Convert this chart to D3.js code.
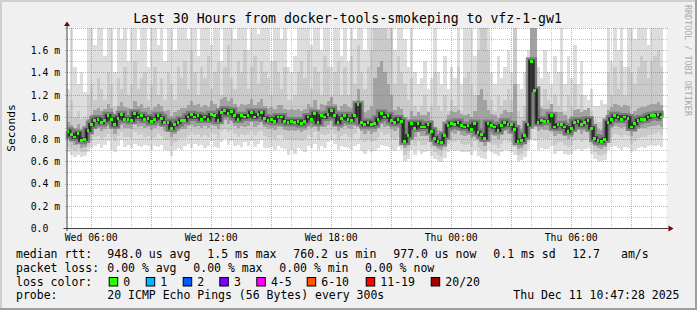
<!DOCTYPE html>
<html>
<head>
<meta charset="utf-8">
<script src="https://cdn.jsdelivr.net/npm/d3@7"></script>
<style>
  body { margin: 0; background: #f0f0f0; }
  text { font-family: "DejaVu Sans Mono", monospace; fill: #000; }
</style>
</head>
<body>
<script>
// one value per 10 minute step, milliseconds
var median = [
  0.87,0.84,0.82,0.85,0.79,0.80,0.88,0.93,0.97,0.98,
  0.95,0.97,1.01,0.98,0.93,0.99,1.02,0.98,0.98,0.97,
  1.03,1.00,1.01,0.98,0.99,0.96,0.98,1.01,0.99,0.95,
  0.95,0.90,0.93,0.95,0.97,0.97,1.00,1.02,1.00,1.01,
  0.98,1.00,0.98,1.02,1.01,0.97,1.04,1.06,1.03,1.05,
  1.01,0.98,1.01,1.00,1.01,1.04,1.00,1.02,1.04,0.99,
  0.97,0.98,0.96,1.00,1.00,0.96,0.95,0.96,0.95,0.96,
  0.94,0.96,1.00,0.98,1.03,0.95,1.01,1.00,1.02,1.06,
  1.01,0.95,0.99,1.01,0.98,0.97,1.01,1.11,0.95,0.93,
  0.95,0.93,0.94,0.98,1.03,1.00,1.01,0.97,0.95,0.98,
  0.96,0.78,0.83,0.94,0.90,0.94,0.91,0.91,0.93,0.87,
  0.81,0.78,0.77,0.83,0.92,0.94,0.93,0.95,0.92,0.91,
  0.92,0.89,0.94,0.86,0.84,0.81,0.94,0.92,0.91,0.88,
  0.92,0.95,0.93,0.93,0.89,0.78,0.79,0.83,0.93,1.50,
  1.24,0.95,0.97,0.96,0.96,1.01,0.91,0.93,0.93,0.91,
  0.87,0.90,0.95,0.96,0.93,0.95,0.97,0.90,0.81,0.79,
  0.78,0.80,0.95,0.98,1.01,1.00,0.98,1.00,0.99,0.91,
  0.94,0.97,0.98,0.98,1.00,1.01,1.01,1.02,1.00
];
// highest ping of the step
var pMax = [
  1.25,1.82,1.45,1.30,1.40,1.22,1.82,1.82,1.65,1.82,
  1.82,1.55,1.82,1.82,1.40,1.82,1.70,1.82,1.50,1.82,
  1.82,1.60,1.82,1.82,1.45,1.82,1.82,1.65,1.82,1.50,
  1.82,1.82,1.60,1.82,1.82,1.82,1.70,1.82,1.82,1.55,
  1.82,1.82,1.82,1.65,1.82,1.82,1.50,1.82,1.82,1.82,
  1.70,1.82,1.82,1.82,1.60,1.82,1.82,1.75,1.82,1.82,
  1.82,1.50,1.82,1.82,1.70,1.82,1.45,1.40,1.55,1.82,
  1.82,1.82,1.82,1.65,1.82,1.82,1.60,1.82,1.82,1.45,
  1.82,1.82,1.55,1.82,1.50,1.82,1.70,1.82,1.82,1.60,
  1.82,1.82,1.82,1.82,1.82,1.82,1.82,1.82,1.60,1.82,
  1.82,1.70,1.45,1.82,1.40,1.30,1.35,1.50,1.25,1.35,
  1.82,1.40,1.30,1.55,1.25,1.45,1.35,1.82,1.30,1.82,
  1.82,1.82,1.55,1.82,1.82,1.82,1.82,1.40,1.30,1.55,
  1.35,1.45,1.60,1.40,1.82,1.30,1.25,1.40,1.60,1.82,
  1.82,1.45,1.35,1.60,1.40,1.30,1.55,1.40,1.82,1.30,
  1.55,1.35,1.65,1.30,1.50,1.20,1.15,1.25,1.10,1.10,
  1.15,1.12,1.82,1.50,1.82,1.60,1.82,1.45,1.82,1.82,
  1.70,1.82,1.82,1.82,1.65,1.82,1.82,1.82,1.80
];
// 18th of 20 pings
var pHi = [
  1.05,1.15,1.00,1.05,0.98,1.00,1.20,1.30,1.15,1.35,
  1.25,1.15,1.40,1.30,1.10,1.35,1.25,1.45,1.20,1.30,
  1.50,1.25,1.35,1.40,1.15,1.30,1.45,1.20,1.35,1.15,
  1.40,1.30,1.15,1.45,1.35,1.50,1.25,1.60,1.40,1.20,
  1.45,1.35,1.55,1.25,1.40,1.50,1.20,1.45,1.65,1.35,
  1.25,1.50,1.40,1.60,1.25,1.45,1.55,1.30,1.50,1.40,
  1.35,1.20,1.50,1.40,1.25,1.45,1.15,1.15,1.20,1.40,
  1.50,1.35,1.60,1.25,1.45,1.40,1.20,1.55,1.45,1.15,
  1.40,1.50,1.20,1.45,1.20,1.55,1.30,1.65,1.40,1.25,
  1.45,1.60,1.82,1.82,1.82,1.82,1.70,1.82,1.30,1.55,
  1.40,1.30,1.15,1.35,1.10,1.05,1.10,1.20,1.05,1.10,
  1.40,1.10,1.05,1.20,1.05,1.15,1.10,1.45,1.05,1.35,
  1.40,1.30,1.20,1.60,1.82,1.82,1.60,1.15,1.05,1.20,
  1.10,1.15,1.25,1.15,1.82,1.05,1.00,1.10,1.25,1.82,
  1.82,1.20,1.10,1.25,1.15,1.05,1.20,1.10,1.40,1.05,
  1.20,1.10,1.30,1.05,1.20,1.05,1.05,1.05,0.98,0.95,
  0.95,0.98,1.40,1.20,1.45,1.25,1.50,1.20,1.45,1.40,
  1.30,1.45,1.55,1.50,1.35,1.50,1.55,1.60,1.45
];
// 15th of 20 pings
var pMid = [
  0.95,0.93,0.90,0.94,0.88,0.90,0.98,1.02,1.06,1.08,
  1.05,1.07,1.12,1.08,1.03,1.10,1.13,1.09,1.08,1.07,
  1.14,1.10,1.12,1.08,1.09,1.06,1.09,1.12,1.10,1.05,
  1.06,1.01,1.04,1.06,1.08,1.08,1.11,1.14,1.11,1.12,
  1.09,1.11,1.09,1.14,1.12,1.08,1.16,1.18,1.14,1.17,
  1.12,1.09,1.12,1.11,1.12,1.16,1.11,1.13,1.16,1.10,
  1.08,1.09,1.07,1.11,1.11,1.07,1.06,1.07,1.06,1.07,
  1.05,1.07,1.12,1.09,1.15,1.06,1.12,1.11,1.14,1.18,
  1.12,1.06,1.10,1.12,1.09,1.08,1.12,1.25,1.06,1.04,
  1.06,1.10,1.35,1.45,1.50,1.40,1.30,1.20,1.06,1.09,
  1.07,0.90,0.92,1.05,1.01,1.04,1.02,1.02,1.04,0.97,
  0.91,0.88,0.87,0.94,1.02,1.05,1.04,1.06,1.03,1.02,
  1.03,1.00,1.05,1.20,1.25,1.15,1.06,1.03,1.02,0.99,
  1.03,1.06,1.04,1.04,1.30,0.88,0.89,0.93,1.04,1.82,
  1.82,1.06,1.08,1.07,1.07,1.12,1.02,1.04,1.04,1.02,
  0.98,1.01,1.06,1.07,1.04,1.06,1.08,1.01,0.91,0.89,
  0.88,0.90,1.06,1.09,1.12,1.11,1.09,1.11,1.10,1.02,
  1.05,1.08,1.09,1.09,1.11,1.12,1.12,1.13,1.11
];
// 6th of 20 pings
var pLow = [
  0.80,0.77,0.75,0.78,0.72,0.73,0.80,0.85,0.89,0.90,
  0.87,0.89,0.92,0.90,0.85,0.90,0.93,0.90,0.90,0.89,
  0.94,0.91,0.92,0.90,0.91,0.88,0.90,0.92,0.91,0.87,
  0.87,0.82,0.85,0.87,0.89,0.89,0.92,0.93,0.91,0.92,
  0.90,0.92,0.90,0.93,0.92,0.89,0.95,0.97,0.94,0.96,
  0.92,0.90,0.92,0.91,0.92,0.95,0.91,0.93,0.95,0.91,
  0.89,0.90,0.88,0.91,0.91,0.88,0.87,0.88,0.87,0.88,
  0.86,0.88,0.91,0.90,0.94,0.87,0.92,0.91,0.93,0.96,
  0.92,0.87,0.90,0.92,0.90,0.89,0.92,1.00,0.87,0.85,
  0.87,0.85,0.86,0.90,0.94,0.91,0.92,0.89,0.87,0.90,
  0.88,0.72,0.75,0.86,0.82,0.86,0.83,0.83,0.85,0.80,
  0.74,0.71,0.70,0.76,0.84,0.86,0.85,0.87,0.84,0.83,
  0.84,0.81,0.86,0.79,0.77,0.74,0.86,0.84,0.83,0.80,
  0.84,0.87,0.85,0.85,0.81,0.71,0.72,0.76,0.85,1.20,
  1.00,0.87,0.89,0.88,0.88,0.92,0.83,0.85,0.85,0.83,
  0.80,0.82,0.87,0.88,0.85,0.87,0.89,0.82,0.74,0.72,
  0.71,0.73,0.87,0.90,0.92,0.91,0.90,0.91,0.90,0.83,
  0.86,0.89,0.90,0.90,0.91,0.92,0.92,0.93,0.91
];
// 3rd of 20 pings
var pLo = [
  0.73,0.71,0.69,0.71,0.68,0.68,0.73,0.78,0.82,0.83,
  0.80,0.82,0.85,0.82,0.78,0.83,0.86,0.82,0.82,0.81,
  0.86,0.84,0.85,0.82,0.83,0.80,0.82,0.85,0.83,0.79,
  0.79,0.74,0.77,0.79,0.81,0.81,0.84,0.86,0.84,0.85,
  0.82,0.84,0.82,0.86,0.85,0.81,0.87,0.89,0.86,0.88,
  0.85,0.82,0.85,0.84,0.85,0.87,0.84,0.86,0.87,0.83,
  0.81,0.82,0.80,0.84,0.84,0.80,0.79,0.80,0.79,0.80,
  0.78,0.80,0.84,0.82,0.86,0.79,0.85,0.84,0.85,0.88,
  0.85,0.79,0.83,0.85,0.82,0.81,0.85,0.90,0.79,0.77,
  0.79,0.77,0.78,0.82,0.86,0.84,0.85,0.81,0.79,0.82,
  0.80,0.66,0.69,0.78,0.74,0.78,0.75,0.75,0.77,0.72,
  0.68,0.66,0.65,0.70,0.76,0.78,0.77,0.79,0.76,0.75,
  0.76,0.73,0.78,0.72,0.70,0.68,0.78,0.76,0.75,0.72,
  0.76,0.79,0.77,0.77,0.73,0.66,0.67,0.70,0.77,0.95,
  0.90,0.79,0.81,0.80,0.80,0.85,0.75,0.77,0.77,0.75,
  0.73,0.75,0.79,0.80,0.77,0.79,0.81,0.75,0.68,0.66,
  0.66,0.67,0.79,0.82,0.85,0.84,0.82,0.84,0.83,0.76,
  0.78,0.81,0.82,0.82,0.84,0.85,0.85,0.86,0.84
];
// lowest ping of the step
var pMin = [
  0.68,0.66,0.64,0.66,0.64,0.65,0.68,0.72,0.74,0.76,
  0.72,0.75,0.78,0.70,0.68,0.74,0.79,0.73,0.75,0.72,
  0.76,0.74,0.73,0.75,0.74,0.70,0.74,0.73,0.75,0.70,
  0.69,0.65,0.70,0.72,0.70,0.74,0.76,0.72,0.76,0.74,
  0.75,0.72,0.74,0.78,0.73,0.72,0.77,0.80,0.75,0.78,
  0.74,0.75,0.73,0.77,0.74,0.78,0.73,0.76,0.79,0.72,
  0.72,0.73,0.70,0.74,0.72,0.71,0.66,0.70,0.67,0.72,
  0.70,0.68,0.74,0.72,0.76,0.70,0.74,0.72,0.77,0.79,
  0.76,0.70,0.74,0.73,0.72,0.70,0.74,0.76,0.69,0.67,
  0.70,0.68,0.69,0.72,0.75,0.74,0.73,0.70,0.69,0.73,
  0.70,0.60,0.62,0.70,0.66,0.70,0.67,0.68,0.69,0.65,
  0.62,0.60,0.59,0.63,0.68,0.70,0.69,0.70,0.68,0.68,
  0.68,0.66,0.70,0.65,0.63,0.62,0.70,0.68,0.67,0.65,
  0.68,0.70,0.69,0.68,0.66,0.60,0.61,0.64,0.70,0.80,
  0.78,0.70,0.72,0.71,0.71,0.74,0.67,0.69,0.69,0.67,
  0.66,0.67,0.70,0.71,0.69,0.71,0.72,0.67,0.62,0.60,
  0.60,0.61,0.70,0.73,0.74,0.72,0.70,0.73,0.72,0.68,
  0.70,0.72,0.73,0.72,0.74,0.75,0.74,0.75,0.73
];

var yTicks = [0, 0.2, 0.4, 0.6, 0.8, 1.0, 1.2, 1.4, 1.6];
var lossLabels = ['0', '1', '2', '3', '4-5', '6-10', '11-19', '20/20'];
var lossColors = ['#26ff00', '#00b8ff', '#0059ff', '#7e00ff', '#ff00ff', '#ff5500', '#ff0000', '#a10000'];
var rttStats = ['948.0 us avg', '1.5 ms max', '760.2 us min', '977.0 us now', '0.1 ms sd', '12.7', 'am/s'];
var lossStats = ['0.00 % avg', '0.00 % max', '0.00 % min', '0.00 % now'];
var probeText = '20 ICMP Echo Pings (56 Bytes) every 300s';
var stampText = 'Thu Dec 11 10:47:28 2025';
var titleText = 'Last 30 Hours from docker-tools-smokeping to vfz-1-gw1';

var start_time = new Date(Date.UTC(2025, 11, 10, 4, 47, 28));
var end_time = new Date(Date.UTC(2025, 11, 11, 10, 47, 28));
var step_ms = 600 * 1000;

var width = 697, height = 310;
var x0 = 66.5, x1 = 666.5, y_top = 28, y_bot = 228;
var y_max = 1.8;

var svg = d3.select('body').append('svg').attr('width', width).attr('height', height);

// background and rrdtool shaded frame
svg.append('rect').attr('width', width).attr('height', height).attr('fill', '#f0f0f0');
svg.append('rect').attr('x', 0).attr('y', 0).attr('width', width).attr('height', 2).attr('fill', '#cfcfcf');
svg.append('rect').attr('x', 0).attr('y', 0).attr('width', 2).attr('height', height).attr('fill', '#cfcfcf');
svg.append('rect').attr('x', 0).attr('y', height - 2).attr('width', width).attr('height', 2).attr('fill', '#9e9e9e');
svg.append('rect').attr('x', width - 2).attr('y', 0).attr('width', 2).attr('height', height).attr('fill', '#9e9e9e');

var x_scale = d3.scaleUtc().domain([start_time, end_time]).range([x0, x1]);
var y_scale = d3.scaleLinear().domain([0, y_max]).range([y_bot, y_top]);

svg.append('rect').attr('x', x0).attr('y', y_top).attr('width', x1 - x0).attr('height', y_bot - y_top).attr('fill', '#ffffff');

function t_of(i) { return new Date(start_time.getTime() + i * step_ms); }
function yc(v) { return y_scale(Math.min(v, y_max)); }

// smoke: outer pings light, inner pings dark
var bands = [
  { lo: pMin, hi: pMax, color: '#dddddd' },
  { lo: pLo, hi: pHi, color: '#cacaca' },
  { lo: pLow, hi: pMid, color: '#a2a2a2' }
];
var smoke = svg.append('g').attr('shape-rendering', 'crispEdges');
bands.forEach(function(b) {
  smoke.append('g').selectAll('rect').data(median).enter().append('rect')
    .attr('x', (d, i) => x_scale(t_of(i)))
    .attr('width', (d, i) => x_scale(t_of(i + 1)) - x_scale(t_of(i)))
    .attr('y', (d, i) => yc(b.hi[i]))
    .attr('height', (d, i) => Math.max(0, yc(b.lo[i]) - yc(b.hi[i])))
    .attr('fill', b.color);
});

// grid
var grid = svg.append('g').attr('shape-rendering', 'crispEdges');
for (var v = 0.1; v < y_max + 0.001; v += 0.1) {
  var major = Math.round(v * 10) % 2 == 0;
  var yy = Math.round(y_scale(v)) + 0.5;
  grid.append('line').attr('x1', x0 - 2).attr('x2', x1 + 2).attr('y1', yy).attr('y2', yy)
    .attr('stroke', major ? 'rgba(222,81,81,0.55)' : 'rgba(143,143,143,0.5)')
    .attr('stroke-dasharray', '1,1');
}
d3.utcHour.range(d3.utcHour.ceil(start_time), end_time).forEach(function(t) {
  var major = t.getUTCHours() % 3 == 0;
  var xx = Math.round(x_scale(t)) + 0.5;
  grid.append('line').attr('x1', xx).attr('x2', xx).attr('y1', y_top).attr('y2', y_bot + 2)
    .attr('stroke', major ? 'rgba(222,81,81,0.55)' : 'rgba(143,143,143,0.5)')
    .attr('stroke-dasharray', '1,1');
});

// median: dark core of the smoke and loss coloured marks
var med_line = d3.line()
  .x((d, i) => x_scale(t_of(i)) + 1.6)
  .y(d => yc(d))
  .curve(d3.curveStep);
svg.append('path').datum(median).attr('d', med_line).attr('fill', 'none')
  .attr('stroke', '#6e6e6e').attr('stroke-width', 8).attr('stroke-opacity', 0.75);
svg.append('path').datum(median).attr('d', med_line).attr('fill', 'none')
  .attr('stroke', '#3a3a3a').attr('stroke-width', 3.5);
svg.append('path').datum(median).attr('d', med_line).attr('fill', 'none')
  .attr('stroke', '#202020').attr('stroke-width', 1);
svg.append('g').attr('shape-rendering', 'crispEdges').selectAll('rect').data(median).enter().append('rect')
  .attr('x', (d, i) => x_scale(t_of(i)))
  .attr('width', (d, i) => x_scale(t_of(i + 1)) - x_scale(t_of(i)) - 0.6)
  .attr('y', d => yc(d) - 1.3)
  .attr('height', 2.8)
  .attr('fill', lossColors[0]);

// axes
var y_axis = svg.append('g').attr('transform', 'translate(' + x0 + ',0)')
  .call(d3.axisLeft(y_scale).tickValues(yTicks).tickSize(0).tickPadding(0)
    .tickFormat(d => d == 0 ? '0.0' : d3.format('.1f')(d) + ' m'));
y_axis.select('.domain').remove();
y_axis.selectAll('text').attr('text-anchor', 'start').attr('x', 30.7 - x0).attr('dy', '0.34em')
  .style('font-size', '9.8px').style('font-family', '"DejaVu Sans Mono", monospace');

var x_axis = svg.append('g').attr('transform', 'translate(0,' + y_bot + ')')
  .call(d3.axisBottom(x_scale).ticks(d3.utcHour.every(6)).tickSize(0).tickPadding(0)
    .tickFormat(d3.utcFormat('%a %H:%M')));
x_axis.select('.domain').remove();
x_axis.selectAll('text').attr('y', 13).attr('dy', 0)
  .style('font-size', '9.8px').style('font-family', '"DejaVu Sans Mono", monospace');

svg.append('line').attr('x1', x0 - 3).attr('x2', x1 + 2).attr('y1', y_bot + 0.5).attr('y2', y_bot + 0.5)
  .attr('stroke', '#404040');
svg.append('line').attr('x1', x0 + 0.5).attr('x2', x0 + 0.5).attr('y1', y_bot + 3).attr('y2', y_top - 2)
  .attr('stroke', '#404040');
svg.append('path').attr('d', 'M' + (x1 + 2) + ',' + (y_bot - 2.5) + 'L' + (x1 + 7) + ',' + (y_bot + 0.5) + 'L' + (x1 + 2) + ',' + (y_bot + 3.5) + 'Z')
  .attr('fill', '#7f0000');
svg.append('path').attr('d', 'M' + (x0 - 2.5) + ',' + (y_top - 2) + 'L' + (x0 + 0.5) + ',' + (y_top - 6.5) + 'L' + (x0 + 3.5) + ',' + (y_top - 2) + 'Z')
  .attr('fill', '#7f0000');

// title, axis name, watermark
svg.append('text').attr('x', 347.5).attr('y', 23).attr('text-anchor', 'middle')
  .style('font-size', '13.2px').text(titleText);
svg.append('text').attr('transform', 'translate(15,128) rotate(-90)').attr('text-anchor', 'middle')
  .style('font-size', '11.3px').text('Seconds');
svg.append('text').attr('transform', 'translate(684.5,5) rotate(90)').attr('text-anchor', 'start')
  .style('font-size', '8.4px').style('fill', '#aaaaaa').text('RRDTOOL / TOBI OETIKER');

// legend
var leg = svg.append('g').style('font-size', '11.5px');
function put(x, y, s) { leg.append('text').attr('x', x).attr('y', y).text(s); }
var rtt_x = [107.3, 207.3, 293.3, 393.3, 493.3, 572.3, 621];
put(16, 258, 'median rtt:');
rttStats.forEach((s, i) => put(rtt_x[i], 258, s));
var loss_x = [107.3, 193.3, 279.3, 365];
put(16, 271.7, 'packet loss:');
lossStats.forEach((s, i) => put(loss_x[i], 271.7, s));
put(16, 285.5, 'loss color:');
var box_x = [108.7, 145.7, 182.7, 219.3, 256.3, 306.7, 365.7, 430.7];
lossLabels.forEach(function(s, i) {
  leg.append('rect').attr('x', box_x[i] + 0.5).attr('y', 277.5).attr('width', 8.5).attr('height', 8.5)
    .attr('fill', lossColors[i]).attr('stroke', '#000').attr('stroke-width', 1);
  put(box_x[i] + 14.6, 285.5, s);
});
put(16, 299, 'probe:');
put(107.3, 299, probeText);
put(513.3, 299, stampText);
</script>
</body>
</html>
